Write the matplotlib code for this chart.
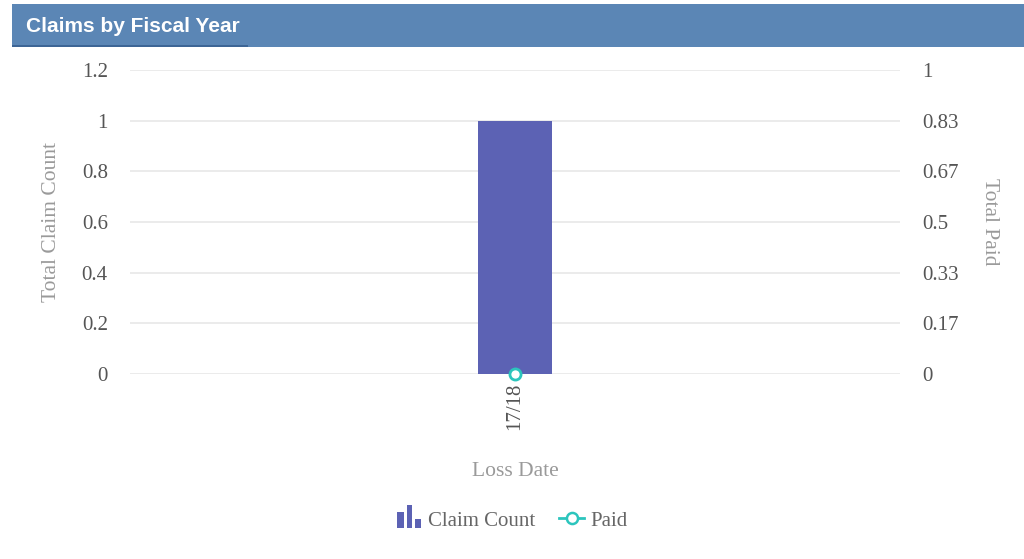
import matplotlib.pyplot as plt
from matplotlib.patches import Rectangle
from matplotlib.lines import Line2D

# data
categories = ['17/18']
claim_count = [1]
total_paid = [0]
left_ticks = [0, 0.2, 0.4, 0.6, 0.8, 1, 1.2]
left_labels = ['0', '0.2', '0.4', '0.6', '0.8', '1', '1.2']
right_ticks = [0, 1/6, 2/6, 3/6, 4/6, 5/6, 1]
right_labels = ['0', '0.17', '0.33', '0.5', '0.67', '0.83', '1']

BAR = '#5c62b4'
TEAL = '#2cc5bd'
GRID = '#e8e8e8'
TICK = '#555555'
LABEL = '#9a9a9a'
SERIF = 'Liberation Serif'

W, H = 1024, 559
fig = plt.figure(figsize=(W / 100, H / 100), dpi=100)


def fx(px):
    return px / W


def fy(py):
    return 1 - py / H


# header bar
fig.patches.append(Rectangle((fx(12), fy(47)), fx(1012), 43 / H, transform=fig.transFigure,
                             facecolor='#5b86b5', edgecolor='none'))
fig.patches.append(Rectangle((fx(12), fy(47.5)), fx(236), 2.5 / H, transform=fig.transFigure,
                             facecolor='#3d6595', edgecolor='none'))
fig.text(fx(26), fy(31.5), 'Claims by Fiscal Year', color='white', fontsize=15,
         fontweight='bold', family='Liberation Sans', va='baseline', ha='left')

# main axes (bar series, left scale)
ax = fig.add_axes([fx(130), fy(374), fx(770), (374 - 70) / H])
x = list(range(len(categories)))
ax.bar(x, claim_count, width=0.096, color=BAR, zorder=2)
ax.set_xlim(-0.5, 0.5)
ax.set_ylim(0, 1.2)
ax.set_yticks(left_ticks)
ax.set_yticklabels(left_labels)
ax.grid(axis='y', color=GRID, linewidth=1.2, zorder=0)
ax.set_xticks(x)
ax.set_xticklabels(categories, rotation=90)
for s in ax.spines.values():
    s.set_visible(False)
ax.tick_params(axis='y', length=0, pad=16, labelsize=15, labelcolor=TICK)
ax.tick_params(axis='x', length=0, pad=6, labelsize=15, labelcolor=TICK)
for t in ax.get_yticklabels() + ax.get_xticklabels():
    t.set_family(SERIF)
ax.set_xlabel('Loss Date', family=SERIF, fontsize=15.5, color=LABEL, va='center')
ax.xaxis.set_label_coords(0.5, -0.322)
ax.set_ylabel('Total Claim Count', family=SERIF, fontsize=15.5, color=LABEL, va='center')
ax.yaxis.set_label_coords(-0.102, 0.5)

# twin axes (line series, right scale)
ax2 = ax.twinx()
ax2.set_ylim(0, 1)
ax2.set_yticks(right_ticks)
ax2.set_yticklabels(right_labels)
for s in ax2.spines.values():
    s.set_visible(False)
ax2.tick_params(axis='y', length=0, pad=16, labelsize=15, labelcolor=TICK)
for t in ax2.get_yticklabels():
    t.set_family(SERIF)
ax2.set_ylabel('Total Paid', family=SERIF, fontsize=15.5, color=LABEL, rotation=270,
               va='center')
ax2.yaxis.set_label_coords(1.116, 0.5)
ax2.plot(x, total_paid, color=TEAL, marker='o', markersize=8, markerfacecolor='white',
         markeredgecolor=TEAL, markeredgewidth=2, clip_on=False, zorder=5)

# legend
for x0, x1, top in [(397, 404, 512), (407, 412, 505), (415, 421, 519)]:
    fig.patches.append(Rectangle((fx(x0), fy(528)), fx(x1 - x0), (528 - top) / H,
                                 transform=fig.transFigure, facecolor=BAR, edgecolor='none'))
fig.text(fx(428), fy(521), 'Claim Count', family=SERIF, fontsize=15, color='#666666',
         va='center', ha='left')
fig.lines.append(Line2D([fx(559), fx(584)], [fy(518), fy(518)], transform=fig.transFigure,
                        color=TEAL, linewidth=2))
fig.lines.append(Line2D([fx(571.5)], [fy(518)], transform=fig.transFigure, marker='o',
                        markersize=8, markerfacecolor='white', markeredgecolor=TEAL,
                        markeredgewidth=1.8, linestyle='none'))
fig.text(fx(590), fy(521), 'Paid', family=SERIF, fontsize=15, color='#666666',
         va='center', ha='left')

fig.savefig('out.png', dpi=100, facecolor='white')
